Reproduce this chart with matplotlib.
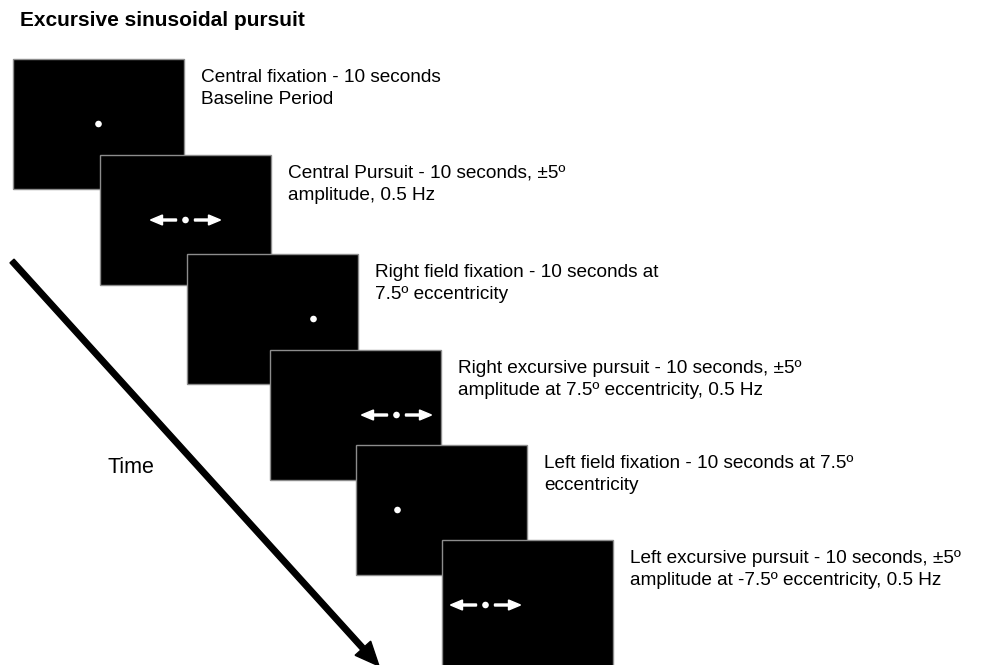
import matplotlib
matplotlib.use("Agg")
import matplotlib.pyplot as plt
from matplotlib.patches import Rectangle, Circle, FancyArrow

plt.rcParams['font.family'] = ['Liberation Sans', 'DejaVu Sans']

# ---- content ----
title = "Excursive sinusoidal pursuit"
stage_line1 = [
    "Central fixation - 10 seconds",
    "Central Pursuit - 10 seconds, \u00b15\u00ba",
    "Right field fixation - 10 seconds at",
    "Right excursive pursuit - 10 seconds, \u00b15\u00ba",
    "Left field fixation - 10 seconds at 7.5\u00ba",
    "Left excursive pursuit - 10 seconds, \u00b15\u00ba",
]
stage_line2 = [
    "Baseline Period",
    "amplitude, 0.5 Hz",
    "7.5\u00ba eccentricity",
    "amplitude at 7.5\u00ba eccentricity, 0.5 Hz",
    "eccentricity",
    "amplitude at -7.5\u00ba eccentricity, 0.5 Hz",
]
# target offset from screen centre (pixels) and whether it moves (pursuit)
target_offset = [0, 0, 41, 41, -44, -42]
is_pursuit = [False, True, False, True, False, True]
time_label = "Time"

# ---- layout (pixels) ----
W, H = 1008, 665
panel_left = [13, 100, 187, 270, 356, 442]
panel_top = [59, 155, 254, 350, 445, 540]
panel_w, panel_h = 171, 130

fig = plt.figure(figsize=(W / 100, H / 100), dpi=100)
ax = fig.add_axes([0, 0, 1, 1])
ax.set_xlim(0, W)
ax.set_ylim(H, 0)
ax.axis('off')

ax.text(20, 26, title, fontsize=15, fontweight='bold', ha='left', va='baseline')

for i in range(len(stage_line1)):
    x0, y0 = panel_left[i], panel_top[i]
    z = 2 + i
    ax.add_patch(Rectangle((x0, y0), panel_w, panel_h, facecolor='black',
                           edgecolor='#8c8c8c', linewidth=1.0, zorder=z))
    cx = x0 + panel_w / 2 + target_offset[i]
    cy = y0 + panel_h / 2
    ax.add_patch(Circle((cx, cy), 2.6, color='white', zorder=z + 0.5))
    if is_pursuit[i]:
        for sgn in (-1, 1):
            ax.add_patch(FancyArrow(cx + sgn * 9, cy, sgn * 26, 0, width=2.0,
                                    head_width=10, head_length=12,
                                    length_includes_head=True,
                                    color='white', zorder=z + 0.5))
    tx = x0 + panel_w + 17
    ax.text(tx, y0 + 23, stage_line1[i], fontsize=13.7, ha='left', va='baseline')
    ax.text(tx, y0 + 45, stage_line2[i], fontsize=13.7, ha='left', va='baseline')

# big time arrow
ax.add_patch(FancyArrow(12, 261, 367, 405, width=5.5, head_width=21,
                        head_length=24, length_includes_head=True,
                        color='black', zorder=20))
ax.text(107, 473, time_label, fontsize=15.5, ha='left', va='baseline')

fig.savefig("out.png", dpi=100)
